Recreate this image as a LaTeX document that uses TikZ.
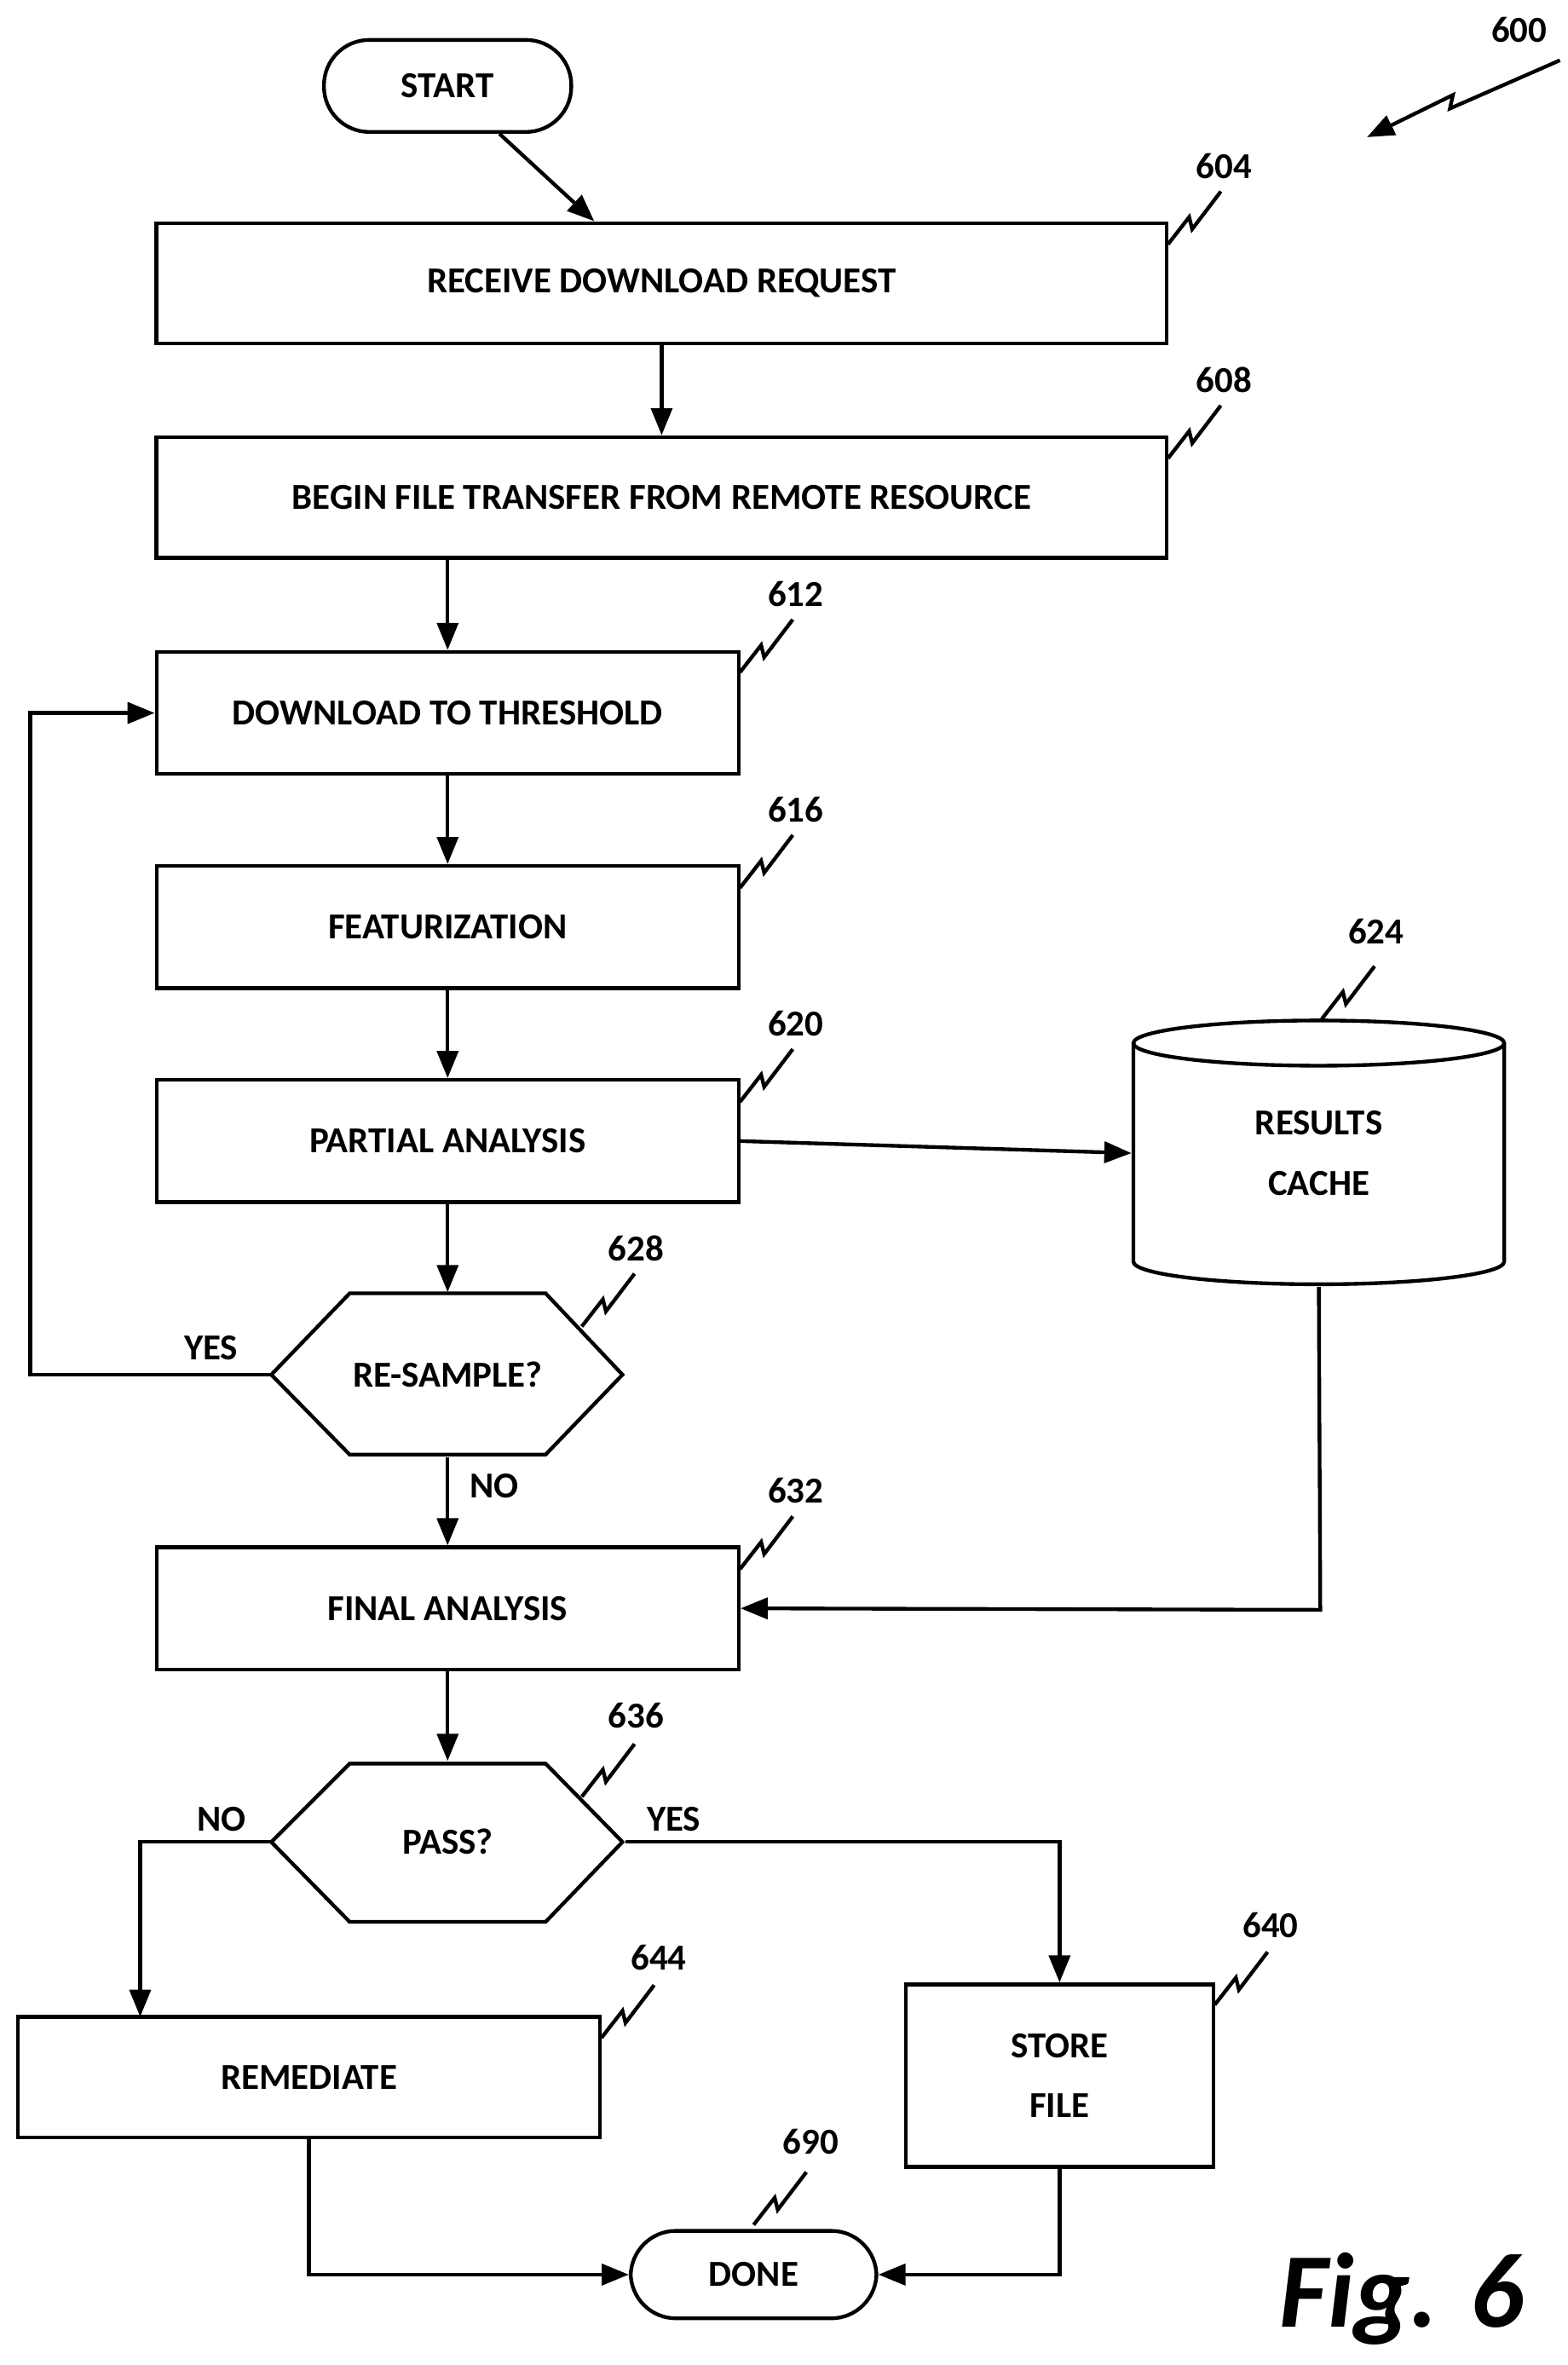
\documentclass[tikz,border=0pt]{standalone}
\usepackage{fontspec}
\setmainfont{Carlito}
\usetikzlibrary{arrows.meta}
\begin{document}
\begin{tikzpicture}[x=0.01cm,y=-0.01cm,line width=0.7pt,
  every node/.style={font=\fontsize{6.9}{8.5}\selectfont\bfseries},
  box/.style={draw,rectangle,inner sep=0pt,align=center},
  plain/.style={inner sep=0pt,align=center},
  term/.style={draw,rounded corners=0.3cm,inner sep=0pt},
  arr/.style={-{Triangle[length=0.18cm,width=0.14cm]}},
  lab/.style={inner sep=0pt}]
\useasboundingbox (0,0) rectangle (1040,1569);
\newcommand\squig[2]{\draw (#1,#2) -- ++(14,-18) -- ++(2,8) -- ++(19,-25);}
\node[term,minimum width=1.64cm,minimum height=0.61cm] (start) at (297,57) {START};
\node[box,minimum width=6.70cm,minimum height=0.80cm] (b604) at (439,188) {RECEIVE DOWNLOAD REQUEST};
\node[box,minimum width=6.70cm,minimum height=0.80cm] (b608) at (439,330) {BEGIN FILE TRANSFER FROM REMOTE RESOURCE};
\node[box,minimum width=3.86cm,minimum height=0.81cm] (b612) at (297,473) {DOWNLOAD TO THRESHOLD};
\node[box,minimum width=3.86cm,minimum height=0.81cm] (b616) at (297,615) {FEATURIZATION};
\node[box,minimum width=3.86cm,minimum height=0.81cm] (b620) at (297,757) {PARTIAL ANALYSIS};
\node[plain,minimum width=2.33cm,minimum height=1.07cm] (h628) at (297,912) {RE-SAMPLE?};
\draw (180,912) -- (232,858) -- (362,858) -- (413,912) -- (362,965) -- (232,965) -- cycle;
\node[box,minimum width=3.86cm,minimum height=0.81cm] (b632) at (297,1067) {FINAL ANALYSIS};
\node[plain,minimum width=2.33cm,minimum height=1.05cm] (h636) at (297,1222) {PASS?};
\draw (180,1222) -- (232,1170) -- (362,1170) -- (413,1222) -- (362,1275) -- (232,1275) -- cycle;
\node[box,minimum width=3.86cm,minimum height=0.80cm] (b644) at (205,1378) {REMEDIATE};
\node[box,minimum width=2.04cm,minimum height=1.21cm] (b640) at (703,1377) {STORE\\[0.1cm]FILE};
\node[term,minimum width=1.63cm,minimum height=0.58cm] (done) at (500,1509) {DONE};
% cylinder
\node[plain,minimum width=2.46cm,minimum height=1.75cm] (c624) at (875,765) {RESULTS\\[0.1cm]CACHE};
\draw (875,692) ellipse [x radius=123,y radius=15];
\draw (752,692) -- (752,837) arc[start angle=180,end angle=0,x radius=123,y radius=15] -- (998,692);
% connectors
\draw[arr] (start) -- (b604);
\draw[arr] (b604) -- (b608);
\draw[arr] (b608.south -| b612) -- (b612);
\draw[arr] (b612) -- (b616);
\draw[arr] (b616) -- (b620);
\draw[arr] (b620) -- (h628.north);
\draw[arr] (h628.south) -- (b632);
\draw[arr] (h628.west) -- (20,912) -- (20,473) -- (b612.west);
\draw[arr] (b620.east) -- (c624.west);
\draw[arr] (c624.south) -- (876,1068) -- (b632.east);
\draw[arr] (b632) -- (h636.north);
\draw[arr] (h636.west) -- (93,1222) -- (93,1338);
\draw[arr] (h636.east) -- (703,1222) -- (b640.north);
\draw[arr] (b644.south) -- (205,1509) -- (done.west);
\draw[arr] (b640.south) -- (703,1509) -- (done.east);
% edge labels
\node[lab] (yes1) at (140,894) {YES};
\node[lab] (no1) at (328,986) {NO};
\node[lab] (no2) at (147,1207) {NO};
\node[lab] (yes2) at (447,1207) {YES};
% reference numerals
\node[lab] (n604) at (812,110) {604}; \squig{775}{162}
\node[lab] (n608) at (812,252) {608}; \squig{775}{304}
\node[lab] (n612) at (528,394) {612}; \squig{491}{446}
\node[lab] (n616) at (528,537) {616}; \squig{491}{589}
\node[lab] (n620) at (528,679) {620}; \squig{491}{731}
\node[lab] (n624) at (913,618) {624}; \squig{877}{676}
\node[lab] (n628) at (422,828) {628}; \squig{386}{880}
\node[lab] (n632) at (528,989) {632}; \squig{491}{1041}
\node[lab] (n636) at (422,1138) {636}; \squig{386}{1192}
\node[lab] (n640) at (843,1277) {640}; \squig{806}{1330}
\node[lab] (n644) at (437,1299) {644}; \squig{399}{1352}
\node[lab] (n690) at (538,1421) {690}; \squig{500}{1476}
\node[lab] (n600) at (1008,20) {600};
\draw[arr] (1035,40) -- (962,72) -- (964,63) -- (907,91);
\node[lab,font=\fontsize{20}{24}\selectfont\bfseries\itshape] (fig) at (930,1525) {Fig. 6};
\end{tikzpicture}
\end{document}
